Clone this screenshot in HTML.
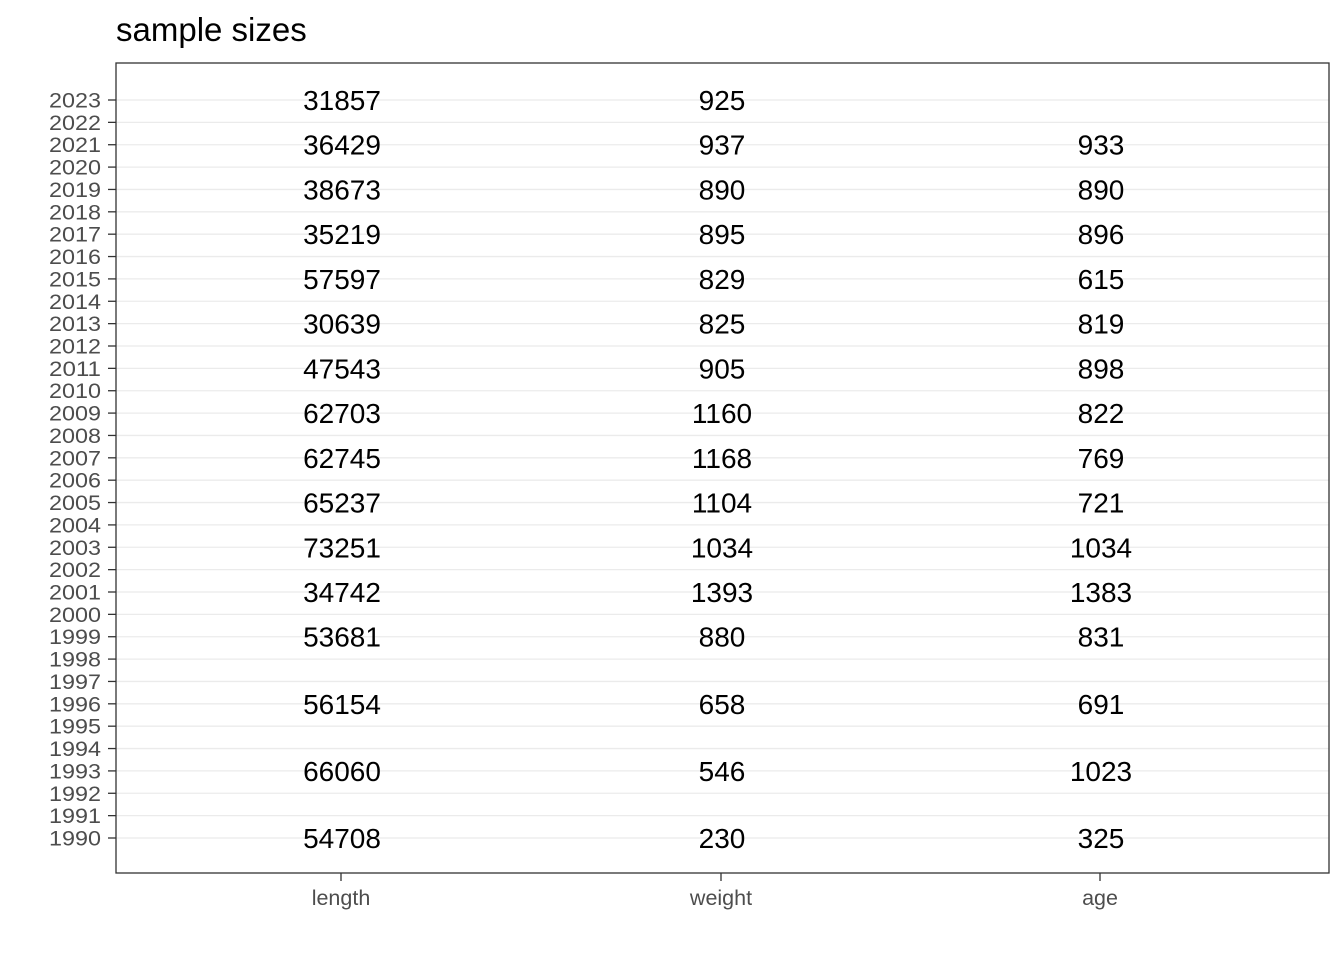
<!DOCTYPE html>
<html><head><meta charset="utf-8"><style>
body{margin:0;background:#fff;width:1344px;height:960px;overflow:hidden;font-family:"Liberation Sans",Arial,sans-serif}
</style></head><body>
<svg id="chart" width="1344" height="960" xmlns="http://www.w3.org/2000/svg">
<text x="116" y="41" font-size="33" fill="#000">sample sizes</text>
<g id="grid"></g>
<rect x="116" y="63" width="1213" height="810" fill="none" stroke="#333" stroke-width="1.3"/>
<g id="yaxis"></g><g id="xaxis"></g><g id="vals"></g>
</svg>
<script>
const years=[];for(let y=1990;y<=2023;y++)years.push(y);
const categories=["length","weight","age"];
const rowYears=[2023,2021,2019,2017,2015,2013,2011,2009,2007,2005,2003,2001,1999,1996,1993,1990];
const lengthVals=[31857,36429,38673,35219,57597,30639,47543,62703,62745,65237,73251,34742,53681,56154,66060,54708];
const weightVals=[925,937,890,895,829,825,905,1160,1168,1104,1034,1393,880,658,546,230];
const ageVals=[null,933,890,896,615,819,898,822,769,721,1034,1383,831,691,1023,325];
const NS="http://www.w3.org/2000/svg";
const yS=v=>838-(v-1990)*(838-100)/33;
const xS=i=>[341,721,1100][i];
function mk(t,a,p){const e=document.createElementNS(NS,t);for(const k in a)e.setAttribute(k,a[k]);p.appendChild(e);return e;}
const grid=document.getElementById('grid'),ya=document.getElementById('yaxis'),xa=document.getElementById('xaxis'),vals=document.getElementById('vals');
years.forEach(y=>{
 const g=mk('line',{x1:116,x2:1329,y1:yS(y),y2:yS(y),stroke:'#ebebeb','stroke-width':1.3},grid);
 
 
 const t=mk('line',{x1:108,x2:116,y1:yS(y),y2:yS(y),stroke:'#333','stroke-width':1.3},ya);
 
 
 const l=mk('text',{x:49,y:yS(y)+7.5,textLength:52,lengthAdjust:'spacingAndGlyphs','font-size':21.5,fill:'#4d4d4d'},ya);
 l.textContent=y;
 
 
});
categories.forEach((c,i)=>{
 const t=mk('line',{x1:xS(i),x2:xS(i),y1:873,y2:881,stroke:'#333','stroke-width':1.3},xa);
 
 
 const l=mk('text',{x:xS(i),y:905,'text-anchor':'middle','font-size':21.5,fill:'#4d4d4d'},xa);
 l.textContent=c;
 
 
});
[lengthVals,weightVals,ageVals].forEach((arr,i)=>{
 arr.forEach((v,j)=>{
  if(v==null)return;
  const t=mk('text',{x:xS(i)+1,y:yS(rowYears[j])+10,'text-anchor':'middle','font-size':28,fill:'#000'},vals);
  t.textContent=v;
  
  
 });
});
</script>
</body></html>
